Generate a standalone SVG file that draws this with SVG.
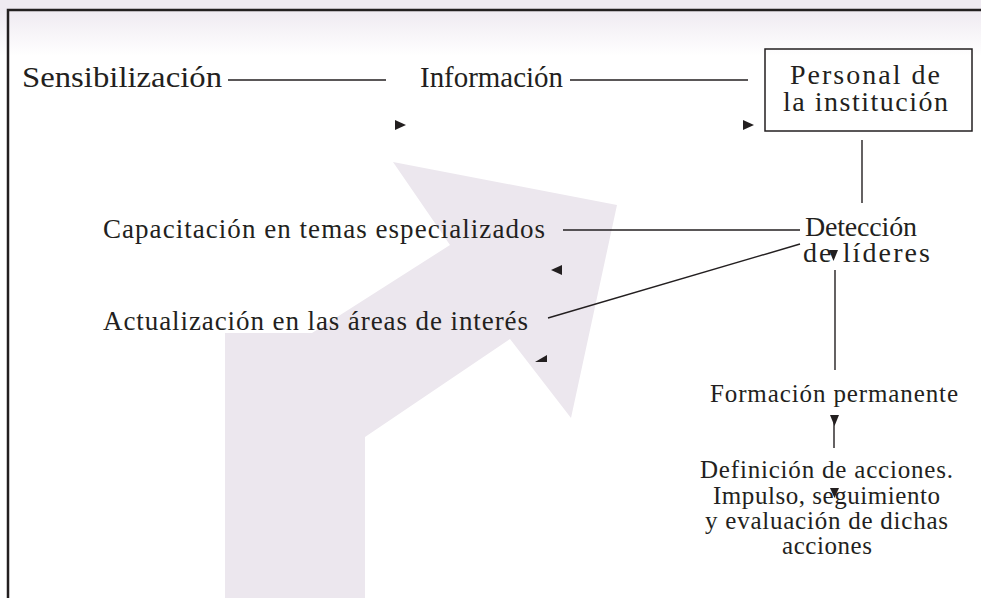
<svg xmlns="http://www.w3.org/2000/svg" width="981" height="598" viewBox="0 0 981 598">
<defs>
<linearGradient id="band" x1="0" y1="0" x2="0" y2="1">
<stop offset="0" stop-color="#efeaf1"/>
<stop offset="1" stop-color="#ffffff"/>
</linearGradient>
<style>
.t{font-family:"Liberation Serif","Times New Roman",serif;fill:#231f20;}
.big{font-size:30px}
.box{font-size:28px}
.mid{font-size:27px}
.sm{font-size:25px}
.ln{stroke:#231f20;stroke-width:1.4;fill:none}
.ah{fill:#231f20}
</style>
</defs>
<rect width="981" height="598" fill="#ffffff"/>
<rect width="981" height="10" fill="#efeaf1"/>
<rect y="10" width="981" height="46" fill="url(#band)"/>
<polygon points="225,598 225,333 312,333 450,245 393,162 617,205 571,418 510,339 365,437 365,598" fill="#ece7ee"/>
<path d="M8 598 V10 H981" stroke="#231f20" stroke-width="2.5" fill="none"/>
<g id="connectors">
<line class="ln" x1="228" y1="80" x2="386" y2="80"/>
<line class="ln" x1="570" y1="80" x2="748" y2="80"/>
<line class="ln" x1="862" y1="140" x2="862" y2="203"/>
<line class="ln" x1="563" y1="230" x2="800" y2="230"/>
<line class="ln" x1="548" y1="318" x2="800" y2="244"/>
<line class="ln" x1="835" y1="270" x2="835" y2="370"/>
<line class="ln" x1="834" y1="420" x2="834" y2="448"/>
<path class="ah" d="M395 120 L406 125 L395 130 Z"/>
<path class="ah" d="M743 120 L754 125 L743 130 Z"/>
<path class="ah" d="M562 265 L551 270 L562 275 Z"/>
<path class="ah" d="M535 362 L547 355 L547 362 Z"/>
<path class="ah" d="M829 250 L838 250 L833.5 261 Z"/>
<path class="ah" d="M830 415 L839 415 L834.5 426 Z"/>
<path class="ah" d="M830 488 L839 488 L834.5 498 Z"/>
</g>
<g id="sensibilizacion"><text class="t big" x="22" y="87" textLength="200" lengthAdjust="spacingAndGlyphs">Sensibilización</text></g>
<g id="informacion"><text class="t big" x="420" y="87" textLength="143" lengthAdjust="spacingAndGlyphs">Información</text></g>
<g id="personal">
<rect x="765" y="49" width="207" height="82" fill="none" stroke="#231f20" stroke-width="1.5"/>
<text class="t box" x="790" y="84" textLength="150">Personal de</text>
<text class="t box" x="783" y="111" textLength="165">la institución</text>
</g>
<g id="deteccion">
<text class="t box" x="805" y="236" textLength="112">Detección</text>
<text class="t box" x="803" y="262" textLength="127">de líderes</text>
</g>
<g id="capacitacion"><text class="t mid" x="103" y="238" textLength="442">Capacitación en temas especializados</text></g>
<g id="actualizacion"><text class="t mid" x="103" y="330" textLength="425">Actualización en las áreas de interés</text></g>
<g id="formacion"><text class="t sm" x="710" y="402" textLength="248">Formación permanente</text></g>
<g id="definicion">
<text class="t sm" x="700" y="478" textLength="253">Definición de acciones.</text>
<text class="t sm" x="713" y="504" textLength="227">Impulso, seguimiento</text>
<text class="t sm" x="705" y="529" textLength="243">y evaluación de dichas</text>
<text class="t sm" x="782" y="554" textLength="90">acciones</text>
</g>
</svg>
